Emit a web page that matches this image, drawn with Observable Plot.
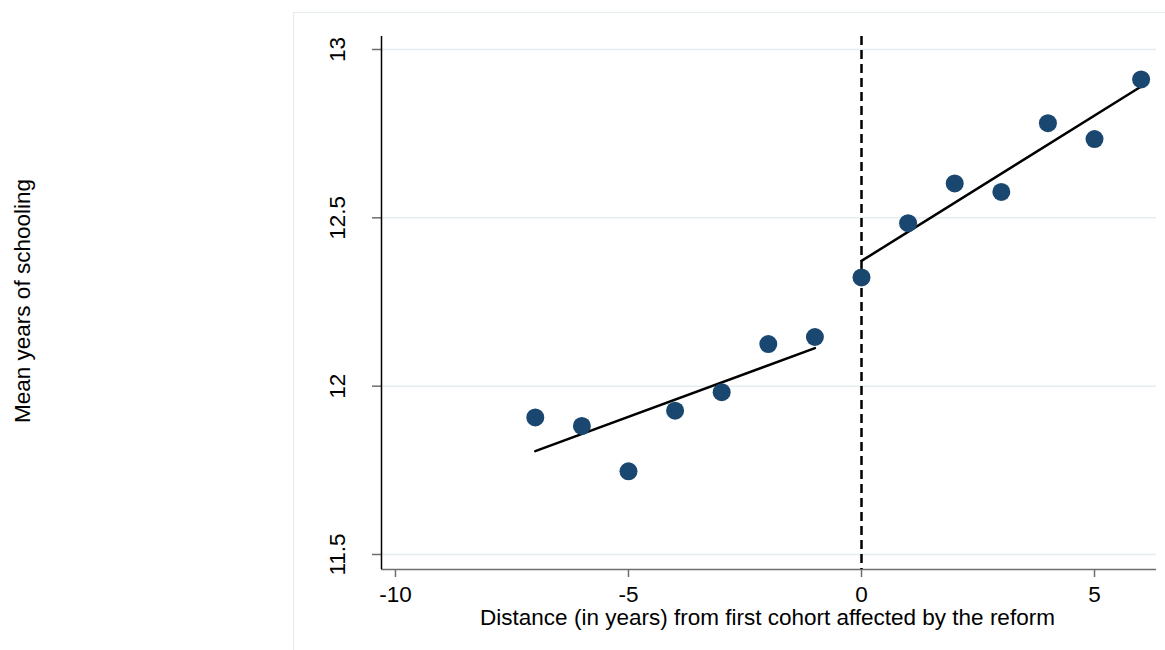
<!DOCTYPE html>
<html>
<head>
<meta charset="utf-8">
<script src="https://cdn.jsdelivr.net/npm/d3@7"></script>
<script src="https://cdn.jsdelivr.net/npm/@observablehq/plot@0.6"></script>
<style>
  html, body { margin: 0; padding: 0; background: #fff; }
  #chart svg { display: block; font-family: "Liberation Sans", Arial, sans-serif; }
</style>
</head>
<body>
<div id="chart"></div>
<script>
// Cohort distance from reform and mean years of schooling
const distance = [-7, -6, -5, -4, -3, -2, -1, 0, 1, 2, 3, 4, 5, 6];
const schooling = [11.907, 11.882, 11.747, 11.927, 11.982, 12.125, 12.146,
                   12.323, 12.484, 12.602, 12.577, 12.781, 12.734, 12.911];

// Fitted lines (pre- and post-reform), endpoints
const fitSegment = ["pre", "pre", "post", "post"];
const fitX = [-7, -1, 0, 6];
const fitY = [11.807, 12.113, 12.372, 12.890];

const xTicks = [-10, -5, 0, 5];
const yTicks = [11.5, 12, 12.5, 13];
const xTitle = "Distance (in years) from first cohort affected by the reform";
const yTitle = "Mean years of schooling";

const points = distance.map((d, i) => ({x: d, y: schooling[i]}));
const fit = fitX.map((d, i) => ({g: fitSegment[i], x: d, y: fitY[i]}));

const W = 1165, H = 650;
const mL = 381, mR = 9, mT = 36, mB = 81;
const xDom = [-10.30, 6.33];
const yDom = [11.4554, 13.0386];
const fs = 22.5;

const chart = Plot.plot({
  width: W, height: H,
  marginLeft: mL, marginRight: mR, marginTop: mT, marginBottom: mB,
  style: {fontFamily: '"Liberation Sans", Arial, sans-serif', background: "transparent", overflow: "visible"},
  x: {type: "linear", domain: xDom, axis: null},
  y: {type: "linear", domain: yDom, axis: null},
  marks: [
    // gridlines
    Plot.ruleY(yTicks, {y: d => d, stroke: "#e3edf0", strokeWidth: 1.5}),
    // x axis line (gray)
    Plot.ruleY([yDom[0]], {stroke: "#6e6e6e", strokeWidth: 1.5}),
    // x ticks
    Plot.ruleX(xTicks, {x: d => d, y1: () => yDom[0], y2: () => yDom[0] - 8 / 336.67, stroke: "#6e6e6e", strokeWidth: 1.5}),
    // x tick labels
    Plot.text(xTicks, {x: d => d, y: () => yDom[0], text: d => String(d), dy: 25, fontSize: fs, fill: "#000"}),
    // y tick marks
    Plot.ruleY(yTicks, {y: d => d, x1: () => xDom[0] - 9 / 46.6, x2: () => xDom[0], stroke: "#6e6e6e", strokeWidth: 1.5, clip: false}),
    // y axis line (black)
    Plot.ruleX([xDom[0]], {stroke: "#000", strokeWidth: 1.5}),
    // y tick labels rotated
    Plot.text(yTicks, {x: () => xDom[0], y: d => d, text: d => String(d), rotate: -90, dx: -44, fontSize: fs, fill: "#000"}),
    // dashed reform line
    Plot.ruleX([0], {stroke: "#000", strokeWidth: 2.5, strokeDasharray: "9,5"}),
    // fitted lines
    Plot.line(fit, {x: "x", y: "y", z: "g", stroke: "#000", strokeWidth: 2.5}),
    // points
    Plot.dot(points, {x: "x", y: "y", r: 9, fill: "#1a476f", stroke: "none"})
  ]
});

const sx = chart.scale("x");
const svg = d3.select(chart);
svg.insert("rect", ":first-child")
  .attr("x", 293.5).attr("y", 12.5).attr("width", W).attr("height", H)
  .attr("fill", "#fff").attr("stroke", "#e4ecee").attr("stroke-width", 1);

// axis titles
svg.append("text")
  .attr("x", (sx.apply(xDom[0]) + sx.apply(xDom[1])) / 2 - 1)
  .attr("y", 617).attr("dy", "0.35em")
  .attr("text-anchor", "middle").attr("font-size", fs).attr("fill", "#000")
  .text(xTitle);
svg.append("text")
  .attr("transform", "translate(22,301) rotate(-90)")
  .attr("dy", "0.35em")
  .attr("text-anchor", "middle").attr("font-size", fs).attr("fill", "#000")
  .text(yTitle);

document.getElementById("chart").appendChild(chart);
</script>
</body>
</html>
